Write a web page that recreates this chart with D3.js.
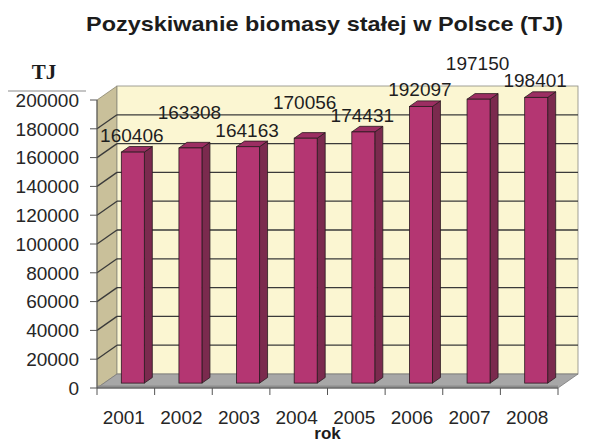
<!DOCTYPE html>
<html>
<head>
<meta charset="utf-8">
<script src="https://cdn.jsdelivr.net/npm/d3@7"></script>
<style>
  html, body { margin: 0; padding: 0; background: #fff; }
  svg { display: block; }
</style>
</head>
<body>
<div id="chart"></div>
<script>
// data
const years = ["2001", "2002", "2003", "2004", "2005", "2006", "2007", "2008"];
const values = [160406, 163308, 164163, 170056, 174431, 192097, 197150, 198401];
const yTicks = [0, 20000, 40000, 60000, 80000, 100000, 120000, 140000, 160000, 180000, 200000];

const title = "Pozyskiwanie biomasy stałej w Polsce (TJ)";
const unitLabel = "TJ";
const xTitle = "rok";

const W = 600, H = 443;
const plotL = 97, plotR = 558, plotB = 388, plotT = 100;
// 3d depth of the plot box
const depthX = 20, depthY = -14;
// bar sits between these depth fractions
const zFront = 0.35, zBack = 0.75;

const svg = d3.select("#chart")
  .append("svg")
  .attr("width", W)
  .attr("height", H)
  .style("font-family", "'Liberation Sans', Arial, sans-serif");

let y = d3.scaleLinear()
  .domain([0, 200000])
  .range([plotB, plotT]);

let x = d3.scaleBand()
  .domain(years)
  .range([plotL, plotR]);

const barW = 23;
const gridCol = "#3a3a3a";

// side wall (left)
svg.append("polygon")
  .attr("points", [[plotL, y(0)], [plotL + depthX, y(0) + depthY], [plotL + depthX, y(200000) + depthY], [plotL, y(200000)]].join(" "))
  .attr("fill", "#c9c09a")
  .attr("stroke", "#8a8570")
  .attr("stroke-width", 0.8);

// back wall
svg.append("rect")
  .attr("x", plotL + depthX)
  .attr("y", y(200000) + depthY)
  .attr("width", plotR - plotL)
  .attr("height", y(0) - y(200000))
  .attr("fill", "#fbf6d2")
  .attr("stroke", "#8a8a80")
  .attr("stroke-width", 0.8);

// gridlines on back + side walls
yTicks.filter(t => t > 0 && t < 200000).forEach(t => {
  svg.append("line")
    .attr("x1", plotL + depthX).attr("x2", plotR + depthX)
    .attr("y1", y(t) + depthY).attr("y2", y(t) + depthY)
    .attr("stroke", gridCol).attr("stroke-width", 1.3);
  svg.append("line")
    .attr("x1", plotL).attr("x2", plotL + depthX)
    .attr("y1", y(t)).attr("y2", y(t) + depthY)
    .attr("stroke", gridCol).attr("stroke-width", 1.3);
});

// floor
svg.append("polygon")
  .attr("points", [[plotL, y(0)], [plotR, y(0)], [plotR + depthX, y(0) + depthY], [plotL + depthX, y(0) + depthY]].join(" "))
  .attr("fill", "#a7a7a7")
  .attr("stroke", "#7a7a7a")
  .attr("stroke-width", 0.8);
svg.append("line")
  .attr("x1", plotL).attr("x2", plotR)
  .attr("y1", y(0) - 1.5).attr("y2", y(0) - 1.5)
  .attr("stroke", "#8e8e8e").attr("stroke-width", 2);

// bars
const fxOff = depthX * zFront, fyOff = depthY * zFront;
const sdx = depthX * (zBack - zFront), sdy = depthY * (zBack - zFront);

years.forEach((yr, i) => {
  const bx = x(yr) + (x.bandwidth() - barW) / 2 + fxOff;
  const by0 = y(0) + fyOff;
  const by1 = y(values[i]) + fyOff;

  // side
  svg.append("polygon")
    .attr("points", [[bx + barW, by0], [bx + barW + sdx, by0 + sdy], [bx + barW + sdx, by1 + sdy], [bx + barW, by1]].join(" "))
    .attr("fill", "#7b2a4e")
    .attr("stroke", "#2a1a20").attr("stroke-width", 0.8);
  // top
  svg.append("polygon")
    .attr("points", [[bx, by1], [bx + barW, by1], [bx + barW + sdx, by1 + sdy], [bx + sdx, by1 + sdy]].join(" "))
    .attr("fill", "#9c2e62")
    .attr("stroke", "#2a1a20").attr("stroke-width", 0.8);
  // front
  svg.append("rect")
    .attr("x", bx).attr("y", by1)
    .attr("width", barW).attr("height", by0 - by1)
    .attr("fill", "#b43672")
    .attr("stroke", "#2a1a20").attr("stroke-width", 0.8);
});

// y axis
svg.append("line")
  .attr("x1", plotL).attr("x2", plotL)
  .attr("y1", y(0)).attr("y2", y(200000))
  .attr("stroke", "#555").attr("stroke-width", 1);

yTicks.forEach(t => {
  svg.append("line")
    .attr("x1", plotL - 7).attr("x2", plotL)
    .attr("y1", y(t)).attr("y2", y(t))
    .attr("stroke", "#555");
  svg.append("text")
    .attr("x", 79)
    .attr("y", y(t))
    .attr("dy", "0.36em")
    .attr("text-anchor", "end")
    .attr("font-size", 19)
    .attr("fill", "#262626")
    .text(t);
});

// x axis
svg.append("line")
  .attr("x1", plotL).attr("x2", plotR)
  .attr("y1", y(0)).attr("y2", y(0))
  .attr("stroke", "#555");

years.concat(["end"]).forEach((yr, i) => {
  const tx = plotL + i * x.step();
  svg.append("line")
    .attr("x1", tx).attr("x2", tx)
    .attr("y1", y(0)).attr("y2", y(0) + 7)
    .attr("stroke", "#555");
});

years.forEach(yr => {
  svg.append("text")
    .attr("x", x(yr) + x.bandwidth() / 2 - 2)
    .attr("y", 424)
    .attr("text-anchor", "middle")
    .attr("font-size", 19)
    .attr("fill", "#262626")
    .text(yr);
});

// value labels, lifted when they would bump into the previous one
let prev = null;
years.forEach((yr, i) => {
  const cx = x(yr) + x.bandwidth() / 2 + fxOff - 1;
  let cy = y(values[i]) + fyOff - 17;
  const t = svg.append("text")
    .attr("x", cx)
    .attr("text-anchor", "middle")
    .attr("font-size", 19)
    .attr("fill", "#1e1e1e")
    .text(values[i]);
  const w = t.node().getComputedTextLength();
  if (prev && Math.abs(prev.cy - cy) < 12 && cx - w / 2 < prev.cx + prev.w / 2) {
    cy = cy - 19;
  }
  t.attr("y", cy).attr("dy", "0.36em");
  prev = { cx, cy, w };
});

// title
svg.append("text")
  .attr("x", 86)
  .attr("y", 31)
  .attr("font-size", 21)
  .attr("font-weight", "bold")
  .attr("fill", "#1c1c1c")
  .attr("textLength", 477)
  .attr("lengthAdjust", "spacingAndGlyphs")
  .text(title);

// unit label
svg.append("text")
  .attr("x", 44)
  .attr("y", 79)
  .attr("text-anchor", "middle")
  .attr("font-family", "'Liberation Serif', 'Times New Roman', serif")
  .attr("font-weight", "bold")
  .attr("font-size", 21)
  .attr("fill", "#1c1c1c")
  .text(unitLabel);

svg.append("line")
  .attr("x1", 8).attr("x2", 86)
  .attr("y1", 91).attr("y2", 91)
  .attr("stroke", "#8c8c8c").attr("stroke-width", 1.2);

svg.append("text")
  .attr("x", (plotL + plotR) / 2)
  .attr("y", 439)
  .attr("text-anchor", "middle")
  .attr("font-size", 17)
  .attr("font-weight", "bold")
  .attr("fill", "#1c1c1c")
  .text(xTitle);
</script>
</body>
</html>
